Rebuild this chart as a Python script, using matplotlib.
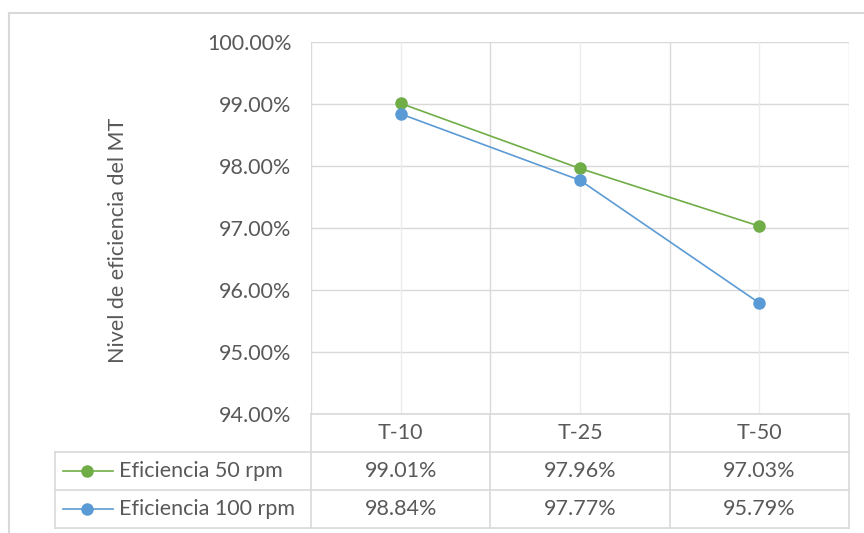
import matplotlib

matplotlib.use("Agg")
from matplotlib import pyplot as plt
from matplotlib.lines import Line2D
from matplotlib.transforms import blended_transform_factory

categories = ["T-10", "T-25", "T-50"]
series_names = ["Eficiencia 50 rpm", "Eficiencia 100 rpm"]
eff_50 = [99.01, 97.96, 97.03]
eff_100 = [98.84, 97.77, 95.79]
y_ticks = [94, 95, 96, 97, 98, 99, 100]
y_label = "Nivel de eficiencia del MT"

GREEN = "#70ad47"
BLUE = "#5b9bd5"
TEXT = "#595959"
GRID = "#d9d9d9"
FS = 15.5

W, H = 864, 533
plt.rcParams["font.family"] = ["Lato", "DejaVu Sans"]


def fx(px):
    return px / W


def fy(py):
    return 1 - py / H


fig = plt.figure(figsize=(W / 100, H / 100), dpi=100)
ax = fig.add_axes([fx(311), fy(414), fx(849) - fx(311), fy(42) - fy(414)])

x = list(range(len(categories)))
for values, color, name in ((eff_50, GREEN, series_names[0]), (eff_100, BLUE, series_names[1])):
    ax.plot(x, values, color=color, lw=1.2, marker="o", ms=8, label=name, zorder=3)

ax.set_xlim(-0.5, len(categories) - 0.5)
ax.set_ylim(94, 100)
ax.set_yticks(y_ticks)
ax.set_yticklabels([f"{v:.2f}%" for v in y_ticks], color=TEXT, fontsize=FS)
ax.tick_params(axis="y", length=0, pad=14)
ax.set_xticks([])
for v in y_ticks:
    ax.axhline(v, color=GRID, lw=1, zorder=1)
for i in range(len(categories) * 2 + 1):
    ax.axvline(-0.5 + i * 0.5, color="#ececec" if i % 2 else GRID, lw=1, zorder=1)
for side in ax.spines.values():
    side.set_visible(False)
fig.text(fx(118), fy(240), y_label, rotation=90, ha="center", va="center", color=TEXT, fontsize=FS)

# data table under the plot
rows_y = [414, 452, 490, 528]
edges = [-0.5 + i for i in range(len(categories) + 1)]
bt = blended_transform_factory(ax.transData, fig.transFigure)
line_kw = dict(color=GRID, lw=1.2)
fig.add_artist(Line2D([fx(311), fx(849)], [fy(rows_y[0])] * 2, **line_kw))
for py in rows_y[1:]:
    fig.add_artist(Line2D([fx(55), fx(849)], [fy(py)] * 2, **line_kw))
fig.add_artist(Line2D([fx(55), fx(55)], [fy(rows_y[1]), fy(rows_y[3])], **line_kw))
for e in edges:
    ax.add_artist(Line2D([e, e], [fy(rows_y[0]), fy(rows_y[3])], transform=bt, clip_on=False, **line_kw))

for i, cat in enumerate(categories):
    ax.text(i, fy((rows_y[0] + rows_y[1]) / 2), cat, transform=bt, ha="center", va="center",
            color=TEXT, fontsize=FS, clip_on=False)
for r, (values, color, name) in enumerate(((eff_50, GREEN, series_names[0]), (eff_100, BLUE, series_names[1]))):
    ymid = fy((rows_y[r + 1] + rows_y[r + 2]) / 2)
    fig.add_artist(Line2D([fx(63), fx(113)], [ymid, ymid], color=color, lw=1.2))
    fig.add_artist(Line2D([fx(87)], [ymid], color=color, marker="o", ms=8))
    fig.text(fx(119), ymid, name, ha="left", va="center", color=TEXT, fontsize=FS)
    for i, v in enumerate(values):
        ax.text(i, ymid, f"{v:.2f}%", transform=bt, ha="center", va="center",
                color=TEXT, fontsize=FS, clip_on=False)

# chart border
border = dict(color=GRID, lw=1.5)
fig.add_artist(Line2D([fx(9), fx(9)], [fy(13), 0], **border))
fig.add_artist(Line2D([fx(9), 1], [fy(13), fy(13)], **border))

fig.savefig("out.png", dpi=100)
